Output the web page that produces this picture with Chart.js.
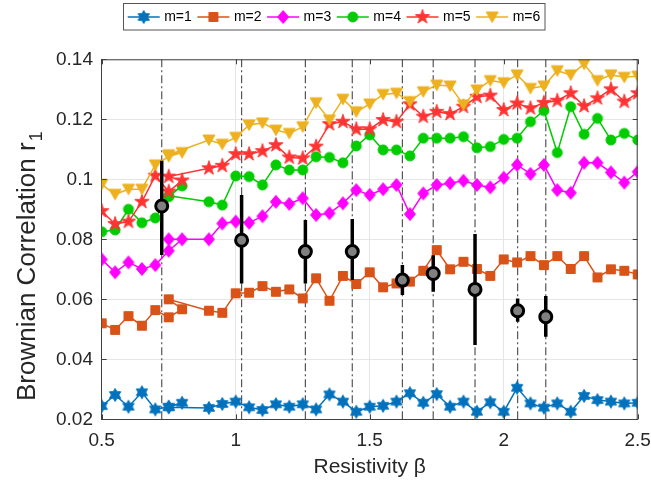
<!DOCTYPE html>
<html>
<head>
<meta charset="utf-8">
<script src="https://cdn.jsdelivr.net/npm/chart.js@4.4.0/dist/chart.umd.min.js"></script>
<style>
  html, body { margin: 0; padding: 0; background: #fff; }
</style>
</head>
<body>
<canvas id="chart" width="651" height="486"></canvas>
<script>
// ==============================
//  DATOS
// ==============================
// beta: the 8th value is plotted at 0.75 again in the original figure
const beta = [0.5, 0.55, 0.6, 0.65, 0.7, 0.75, 0.8, 0.75, 0.9, 0.95,
  1.0, 1.05, 1.1, 1.15, 1.2, 1.25, 1.3, 1.35, 1.4, 1.45,
  1.5, 1.55, 1.6, 1.65, 1.7, 1.75, 1.8, 1.85, 1.9, 1.95,
  2.0, 2.05, 2.1, 2.15, 2.2, 2.25, 2.3, 2.35, 2.4, 2.45, 2.5];

const m1 = [0.0244, 0.0281, 0.0242, 0.0290, 0.0233, 0.0242, 0.0255, 0.0240, 0.0238, 0.0251,
  0.0259, 0.0240, 0.0231, 0.0250, 0.0242, 0.0250, 0.0233, 0.0283, 0.0259, 0.0225,
  0.0242, 0.0245, 0.0259, 0.0287, 0.0255, 0.0284, 0.0242, 0.0259, 0.0225, 0.0257,
  0.0225, 0.0305, 0.0253, 0.0239, 0.0253, 0.0225, 0.0278, 0.0264, 0.0259, 0.0253, 0.0255];
const m2 = [0.0520, 0.0498, 0.0544, 0.0512, 0.0564, 0.0540, 0.0567, 0.0600, 0.0562, 0.0555,
  0.0620, 0.0622, 0.0644, 0.0625, 0.0633, 0.0603, 0.0670, 0.0595, 0.0678, 0.0651,
  0.0690, 0.0640, 0.0653, 0.0659, 0.0695, 0.0764, 0.0700, 0.0725, 0.0701, 0.0678,
  0.0733, 0.0723, 0.0744, 0.0714, 0.0744, 0.0701, 0.0744, 0.0673, 0.0700, 0.0695, 0.0683];
const m3 = [0.0733, 0.0690, 0.0723, 0.0701, 0.0714, 0.0762, 0.0800, 0.0800, 0.0800, 0.0853,
  0.0859, 0.0855, 0.0877, 0.0925, 0.0918, 0.0937, 0.0881, 0.0887, 0.0920, 0.0964,
  0.0948, 0.0967, 0.0981, 0.0884, 0.0953, 0.0981, 0.0987, 0.0995, 0.0981, 0.0973,
  0.1005, 0.1048, 0.1018, 0.1048, 0.0964, 0.0955, 0.1055, 0.1055, 0.1023, 0.0989, 0.1025];
const m4 = [0.0825, 0.0831, 0.0900, 0.0855, 0.0871, 0.0942, 0.0978, 0.0945, 0.0925, 0.0914,
  0.1011, 0.1009, 0.0981, 0.1048, 0.1031, 0.1031, 0.1075, 0.1073, 0.1055, 0.1111,
  0.1148, 0.1098, 0.1098, 0.1078, 0.1137, 0.1137, 0.1137, 0.1142, 0.1105, 0.1109,
  0.1133, 0.1137, 0.1192, 0.1229, 0.1089, 0.1242, 0.1150, 0.1203, 0.1131, 0.1153, 0.1131];
const m5 = [0.0894, 0.0851, 0.0859, 0.0925, 0.1012, 0.0959, 0.0996, 0.1009, 0.1037, 0.1045,
  0.1084, 0.1084, 0.1094, 0.1114, 0.1073, 0.1070, 0.1109, 0.1184, 0.1192, 0.1167,
  0.1167, 0.1198, 0.1192, 0.1250, 0.1209, 0.1225, 0.1218, 0.1242, 0.1275, 0.1279,
  0.1231, 0.1253, 0.1237, 0.1255, 0.1262, 0.1287, 0.1244, 0.1270, 0.1300, 0.1259, 0.1287];
const m6 = [0.0983, 0.0950, 0.0967, 0.0967, 0.1048, 0.1076, 0.1089, 0.1082, 0.1131, 0.1117,
  0.1140, 0.1181, 0.1188, 0.1164, 0.1153, 0.1175, 0.1255, 0.1198, 0.1267, 0.1225,
  0.1251, 0.1283, 0.1287, 0.1259, 0.1292, 0.1314, 0.1311, 0.1248, 0.1298, 0.1329,
  0.1322, 0.1348, 0.1303, 0.1311, 0.1362, 0.1348, 0.1384, 0.1329, 0.1348, 0.1340, 0.1344];

// puntos negros con barras de error (y lineas verticales)
const errX    = [0.724, 1.022, 1.260, 1.435, 1.622, 1.737, 1.893, 2.052, 2.157];
const errMean = [0.0911, 0.0797, 0.0759, 0.0759, 0.0664, 0.0686, 0.0633, 0.0562, 0.0542];
const errLow  = [0.0748, 0.0653, 0.0653, 0.0664, 0.0614, 0.0625, 0.0448, 0.0525, 0.0475];
const errHigh = [0.1062, 0.0948, 0.0864, 0.0868, 0.0714, 0.0747, 0.0818, 0.0603, 0.0611];

const seriesNames = ["m=1", "m=2", "m=3", "m=4", "m=5", "m=6"];
const xTicks = [0.5, 1, 1.5, 2, 2.5];
const yTicks = [0.02, 0.04, 0.06, 0.08, 0.1, 0.12, 0.14];

const FONT = '"Liberation Sans", Arial, Helvetica, sans-serif';
const TXT = "#262626";

// ==============================
//  MARCADORES (canvas)
// ==============================
function starPath(g, n, R, r) {
  for (let i = 0; i < 2 * n; i++) {
    const rad = i % 2 ? r : R;
    const a = -Math.PI / 2 + i * Math.PI / n;
    const x = rad * Math.cos(a), y = rad * Math.sin(a);
    if (i === 0) g.moveTo(x, y); else g.lineTo(x, y);
  }
}

function makeMarker(shape, color) {
  const c = document.createElement("canvas");
  c.width = 18; c.height = 18;
  const g = c.getContext("2d");
  g.translate(9, 9);
  g.fillStyle = color;
  g.strokeStyle = color;
  g.lineWidth = 1;
  g.beginPath();
  if (shape === "hexagram") starPath(g, 6, 6.5, 6.5 / Math.sqrt(3));
  else if (shape === "pentagram") starPath(g, 5, 7.5, 7.5 * 0.382);
  else if (shape === "square") g.rect(-4.5, -4.5, 9, 9);
  else if (shape === "diamond") { g.moveTo(0, -6.5); g.lineTo(5.5, 0); g.lineTo(0, 6.5); g.lineTo(-5.5, 0); }
  else if (shape === "circle") g.arc(0, 0, 5, 0, Math.PI * 2);
  else if (shape === "triangleDown") { g.moveTo(-6, -5); g.lineTo(6, -5); g.lineTo(0, 5.5); }
  g.closePath();
  g.fill();
  g.stroke();
  return c;
}

const colors = ["#0072BD", "#D95319", "#FF00FF", "#00CC00", "#FF3333", "#EDB120"];
const shapes = ["hexagram", "square", "diamond", "circle", "pentagram", "triangleDown"];
const markers = shapes.map((s, i) => makeMarker(s, colors[i]));
const seriesData = [m1, m2, m3, m4, m5, m6];

// ==============================
//  DATASETS
// ==============================
const datasets = seriesData.map((vals, i) => ({
  label: seriesNames[i],
  data: vals.map((v, k) => ({ x: beta[k], y: v })),
  showLine: true,
  borderColor: colors[i],
  borderWidth: 1.5,
  pointStyle: markers[i],
  pointRadius: 5,
  order: 7 - i
}));

// lineas verticales punto-raya
const vData = [];
errX.forEach(x => { vData.push({ x, y: 0.02 }, { x, y: 0.14 }, { x, y: null }); });
datasets.push({
  label: "vlines",
  data: vData,
  showLine: true,
  spanGaps: false,
  borderColor: "#555555",
  borderWidth: 1.2,
  borderDash: [8, 3, 2, 3],
  pointRadius: 0,
  order: 10
});

// barras de error
const eData = [];
errX.forEach((x, i) => { eData.push({ x, y: errLow[i] }, { x, y: errHigh[i] }, { x, y: null }); });
datasets.push({
  label: "errbars",
  data: eData,
  showLine: true,
  spanGaps: false,
  borderColor: "#000000",
  borderWidth: 3.5,
  pointRadius: 0,
  order: 1
});

// puntos negros
datasets.push({
  label: "mean",
  data: errX.map((x, i) => ({ x, y: errMean[i] })),
  showLine: false,
  pointRadius: 6,
  pointBackgroundColor: "#808080",
  pointBorderColor: "#000000",
  pointBorderWidth: 3,
  order: 0
});

// ==============================
//  PLUGIN: caja, ticks, leyenda, etiqueta Y
// ==============================
const decor = {
  id: "decor",
  afterDraw(chart) {
    const { ctx, chartArea: a, scales } = chart;
    ctx.save();
    // caja
    ctx.strokeStyle = "#404040";
    ctx.lineWidth = 1;
    ctx.beginPath();
    ctx.moveTo(a.left, a.top + 0.5); ctx.lineTo(a.right, a.top + 0.5);
    ctx.moveTo(a.right - 0.5, a.top); ctx.lineTo(a.right - 0.5, a.bottom);
    // ticks hacia adentro
    yTicks.forEach(v => {
      const y = Math.round(scales.y.getPixelForValue(v)) + 0.5;
      ctx.moveTo(a.left, y); ctx.lineTo(a.left + 5, y);
      ctx.moveTo(a.right, y); ctx.lineTo(a.right - 5, y);
    });
    xTicks.forEach(v => {
      const x = Math.round(scales.x.getPixelForValue(v)) + 0.5;
      ctx.moveTo(x, a.bottom); ctx.lineTo(x, a.bottom - 5);
      ctx.moveTo(x, a.top); ctx.lineTo(x, a.top + 5);
    });
    ctx.stroke();

    // leyenda
    ctx.fillStyle = "#fff";
    ctx.fillRect(123.5, 3.5, 421.5, 26.5);
    ctx.strokeStyle = "#555";
    ctx.strokeRect(123.5, 3.5, 421.5, 26.5);
    ctx.font = "14px " + FONT;
    ctx.textBaseline = "middle";
    seriesNames.forEach((name, i) => {
      const x0 = 127.7 + i * 69.7, y0 = 17;
      ctx.strokeStyle = colors[i];
      ctx.lineWidth = 1.5;
      ctx.beginPath();
      ctx.moveTo(x0, y0); ctx.lineTo(x0 + 32, y0);
      ctx.stroke();
      const mk = markers[i];
      ctx.drawImage(mk, x0 + 16 - mk.width / 2, y0 - mk.height / 2);
      ctx.fillStyle = "#000";
      ctx.fillText(name, x0 + 36.5, y0);
    });

    // etiqueta Y con subindice
    ctx.translate(28, 401);
    ctx.rotate(-Math.PI / 2);
    ctx.fillStyle = TXT;
    ctx.font = "26px " + FONT;
    ctx.textBaseline = "middle";
    const main = "Brownian Correlation r";
    ctx.fillText(main, 0, 0);
    const w = ctx.measureText(main).width;
    ctx.font = "18px " + FONT;
    ctx.fillText("1", w + 1, 9);
    ctx.restore();
  }
};

// ==============================
//  GRAFICO
// ==============================
new Chart(document.getElementById("chart").getContext("2d"), {
  type: "scatter",
  data: { datasets },
  options: {
    responsive: false,
    animation: false,
    layout: { padding: { top: 59.3, right: 13.3, left: 0, bottom: 0 } },
    plugins: {
      legend: { display: false },
      tooltip: { enabled: false }
    },
    scales: {
      x: {
        type: "linear",
        min: 0.5, max: 2.5,
        afterFit: s => { s.height = 66.7; s.paddingLeft = 0; s.paddingRight = 0; },
        afterBuildTicks: s => { s.ticks = xTicks.map(v => ({ value: v })); },
        ticks: {
          color: TXT, padding: 10,
          font: { family: FONT, size: 19 },
          callback: v => String(v)
        },
        grid: { color: "#e6e6e6", drawTicks: false },
        border: { color: "#404040", width: 1 },
        title: {
          display: true, text: "Resistivity β", color: TXT,
          font: { family: FONT, size: 21 },
          padding: { top: 0, bottom: 6.5 }
        }
      },
      y: {
        type: "linear",
        min: 0.02, max: 0.14,
        afterFit: s => { s.width = 101.7; s.paddingTop = 0; s.paddingBottom = 0; },
        afterBuildTicks: s => { s.ticks = yTicks.map(v => ({ value: v })); },
        ticks: {
          color: TXT, padding: 8.7,
          font: { family: FONT, size: 19 },
          callback: v => String(+v.toFixed(2))
        },
        grid: { color: "#e6e6e6", drawTicks: false },
        border: { color: "#404040", width: 1 }
      }
    }
  },
  plugins: [decor]
});
</script>
</body>
</html>
